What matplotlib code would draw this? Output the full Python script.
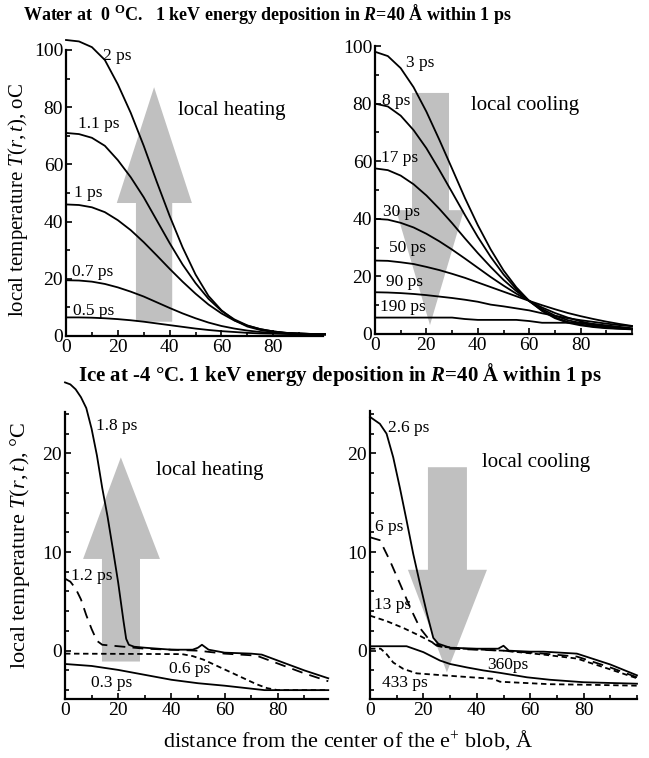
import matplotlib
matplotlib.use("Agg")
import matplotlib.pyplot as plt
from matplotlib.patches import Polygon
from matplotlib.ticker import MultipleLocator

plt.rcParams["font.family"] = "Liberation Serif"
plt.rcParams["mathtext.fontset"] = "custom"
plt.rcParams["mathtext.rm"] = "Liberation Serif"
plt.rcParams["mathtext.it"] = "Liberation Serif:italic"
plt.rcParams["mathtext.bf"] = "Liberation Serif:bold"
plt.rcParams["mathtext.bfit"] = "Liberation Serif:bold:italic"

# distance grid for water panels, Angstrom
r_water = [0, 5, 10, 15, 20, 25, 30, 35, 40, 45, 50, 55, 60, 65, 70, 75, 80, 85, 90, 95, 100]

# water, heating stage (deg C)
w_05ps = [6.5, 6.5, 6.4, 6.2, 5.9, 5.5, 5.0, 4.4, 3.8, 3.2, 2.6, 2.1, 1.7, 1.4, 1.1, 0.9, 0.8, 0.7, 0.6, 0.6, 0.5]
w_07ps = [19.5, 19.4, 19.0, 18.2, 17.0, 15.5, 13.8, 11.8, 9.8, 7.9, 6.2, 4.7, 3.5, 2.6, 1.9, 1.4, 1.1, 0.9, 0.7, 0.6, 0.6]
w_1ps = [46, 45.8, 45, 43.3, 40.5, 37, 32.8, 28.2, 23.5, 19, 14.8, 11, 7.9, 5.4, 3.6, 2.4, 1.6, 1.1, 0.9, 0.7, 0.6]
w_11ps = [71, 70.6, 69.3, 66.5, 61.5, 55.5, 48.5, 40.5, 32.5, 25, 18.5, 13, 8.8, 5.8, 3.7, 2.4, 1.6, 1.1, 0.9, 0.7, 0.6]
w_2ps = [103.5, 103, 101, 96.5, 88, 78, 66.5, 54, 42, 31, 21.5, 14, 9, 5.5, 3.3, 2.1, 1.4, 1.0, 0.8, 0.7, 0.6]

# water, cooling stage (deg C)
w_3ps = [98, 96.5, 92.3, 85.7, 77.2, 67.5, 57.4, 47.2, 37.8, 29.4, 22.1, 16.2, 11.5, 8, 5.5, 3.9, 3.0, 2.4, 2.0, 1.8, 1.6]
w_8ps = [80, 79, 75.8, 70.8, 64.5, 57, 49.2, 41.3, 33.7, 26.8, 20.7, 15.6, 11.4, 8.2, 5.8, 4.2, 3.3, 2.6, 2.2, 1.9, 1.7]
w_17ps = [57.5, 56.9, 55, 52, 48.1, 43.5, 38.5, 33.2, 28.1, 23.3, 18.8, 14.9, 11.5, 8.7, 6.4, 4.8, 3.8, 3.0, 2.5, 2.1, 1.8]
w_30ps = [40, 39.7, 38.6, 37, 34.8, 32.2, 29.3, 26.2, 23, 19.8, 16.8, 14, 11.5, 9.2, 7.3, 5.7, 4.4, 3.3, 2.6, 2.1, 1.8]
w_50ps = [25.5, 25.4, 24.9, 24.3, 23.3, 22.2, 20.9, 19.5, 17.9, 16.3, 14.7, 13.1, 11.5, 10, 8.6, 7.3, 6.2, 5.2, 4.3, 3.5, 2.8]
w_90ps = [14.5, 14.4, 14.2, 13.9, 13.5, 13, 12.5, 11.9, 11.2, 10.2, 9.6, 8.9, 8.2, 7.2, 6.3, 5.5, 4.8, 4.2, 3.6, 3.1, 2.7]
w_190ps = [5.7, 5.7, 5.7, 5.7, 5.7, 5.7, 5.7, 5.2, 4.9, 4.9, 4.9, 4.9, 4.5, 3.9, 3.9, 3.9, 3.9, 3.5, 3.0, 2.5, 2.0]

# ice, heating stage (deg C)
r_i18 = [0, 2, 4, 6, 8, 10, 12, 14, 16, 18, 20, 22, 23, 24, 26, 30, 40, 48, 50, 51.5, 54, 60, 70, 74, 80, 90, 99]
i_18ps = [27.2, 27, 26.5, 25.7, 24.6, 22.5, 19.8, 16.5, 13.6, 10.3, 6.9, 3.0, 1.2, 0.6, 0.4, 0.3, 0.1, 0.1, 0.3, 0.6, 0.1, -0.2, -0.3, -0.4, -1.0, -2.0, -2.8]
r_i12 = [0, 2, 4, 6, 8, 10, 12, 14, 18, 22, 30, 50, 60, 72, 80, 90, 99]
i_12ps = [7.3, 7.0, 6.3, 5.2, 3.6, 2.2, 1.0, 0.6, 0.5, 0.4, 0.2, 0.0, -0.3, -0.5, -1.3, -2.3, -3.1]
r_i06 = [0, 44, 48, 52, 56, 60, 64, 68, 72, 76, 80, 90, 99]
i_06ps = [-0.3, -0.35, -0.55, -0.9, -1.4, -1.9, -2.4, -2.9, -3.4, -3.8, -4.0, -4.0, -4.0]
r_i03 = [0, 10, 20, 30, 40, 50, 60, 70, 75, 99]
i_03ps = [-1.35, -1.55, -1.95, -2.45, -2.95, -3.3, -3.55, -3.85, -4.0, -4.0]

# ice, cooling stage (deg C)
r_i26 = [0, 3.7, 6.2, 8.7, 11.2, 13.7, 16.2, 18.7, 21.3, 23.7, 25.6, 30, 40, 48, 50, 52, 60, 65, 77.5, 90, 100]
i_26ps = [23.7, 23, 22, 19.6, 16.5, 13.2, 9.8, 6.8, 3.8, 1.3, 0.7, 0.3, 0.2, 0.2, 0.5, 0.0, -0.1, -0.1, -0.3, -1.4, -2.5]
r_i6 = [0, 3.7, 7.5, 11.2, 15, 18.7, 22.5, 25, 30, 50, 65, 77.5, 90, 100]
i_6ps = [11.5, 11.2, 9.1, 6.8, 4.4, 2.3, 1.0, 0.5, 0.2, 0.0, -0.3, -0.6, -1.7, -2.7]
r_i13 = [0, 6.2, 12.5, 18.7, 23.7, 27, 35, 50, 65, 77.5, 90, 100]
i_13ps = [3.55, 3.0, 2.3, 1.5, 0.8, 0.4, 0.2, 0.0, -0.4, -0.8, -1.9, -2.8]
r_i360 = [0, 13.7, 20, 26.2, 30, 36.3, 42.4, 48.7, 58.8, 67.4, 80, 100]
i_360ps = [0.45, 0.45, -0.15, -1.0, -1.35, -1.7, -2.0, -2.25, -2.7, -2.95, -3.2, -3.35]
r_i433 = [0, 4, 6.2, 8.7, 12.5, 17.5, 30, 46, 48.7, 67.4, 80, 100]
i_433ps = [0.2, 0.2, -0.35, -1.2, -1.85, -2.3, -2.55, -2.85, -3.15, -3.4, -3.45, -3.55]

GRAY = "#c0c0c0"
W, H = 649, 758

fig = plt.figure(figsize=(6.49, 7.58), dpi=100)


def px_axes(x0, x1, y_top, y_bot):
    return fig.add_axes([x0 / W, 1 - y_bot / H, (x1 - x0) / W, (y_bot - y_top) / H])


def style(ax, xmax, ylim, ymajor, yminor):
    ax.set_xlim(0, xmax)
    ax.set_ylim(*ylim)
    for s in ("top", "right"):
        ax.spines[s].set_visible(False)
    for s in ("left", "bottom"):
        ax.spines[s].set_linewidth(1.6)
    ax.set_xticks([0, 20, 40, 60, 80])
    ax.xaxis.set_minor_locator(MultipleLocator(10))
    ax.yaxis.set_major_locator(MultipleLocator(ymajor))
    ax.yaxis.set_minor_locator(MultipleLocator(yminor))
    ax.tick_params(which="both", direction="in", width=1.2, labelsize=14, pad=2)
    ax.tick_params(which="major", length=4)
    ax.tick_params(which="minor", length=3)
    ax.patch.set_alpha(0)


def gray_arrow(ax, sx0, sx1, hx0, hx1, tip_x, y_tail, y_head, y_tip):
    verts = [(sx0, y_tail), (sx1, y_tail), (sx1, y_head), (hx1, y_head),
             (tip_x, y_tip), (hx0, y_head), (sx0, y_head)]
    ax.add_patch(Polygon(verts, closed=True, facecolor=GRAY, edgecolor="none", zorder=1))


def curve(ax, x, y, ls="-"):
    ax.plot(x, y, color="black", lw=1.3, ls=ls, clip_on=False, zorder=3)


# ---- water heating
ax1 = px_axes(66, 323, 50, 336)
style(ax1, 99.2, (0, 100), 20, 10)
gray_arrow(ax1, 27, 41, 19.6, 48.6, 34, 5, 46.5, 87)
for y in (w_05ps, w_07ps, w_1ps, w_11ps, w_2ps):
    curve(ax1, r_water, y)
lab = dict(fontsize=12.5, ha="center", va="center")
ax1.text(19.6, 98, "2 ps", **lab)
ax1.text(12.7, 74, "1.1 ps", **lab)
ax1.text(8.5, 50, "1 ps", **lab)
ax1.text(10.4, 22.4, "0.7 ps", **lab)
ax1.text(10.8, 8.7, "0.5 ps", **lab)
ax1.text(64, 79, "local heating", fontsize=15, ha="center", va="center")

# ---- water cooling
ax2 = px_axes(375, 632, 46, 334)
style(ax2, 100, (0, 100), 20, 10)
gray_arrow(ax2, 14.4, 28.8, 8.2, 34.6, 21.4, 83.7, 43, 3.1)
for y in (w_3ps, w_8ps, w_17ps, w_30ps, w_50ps, w_90ps, w_190ps):
    curve(ax2, r_water, y)
ax2.text(17.5, 94, "3 ps", **lab)
ax2.text(8.2, 81, "8 ps", **lab)
ax2.text(9.7, 61, "17 ps", **lab)
ax2.text(10.5, 42.4, "30 ps", **lab)
ax2.text(12.6, 30, "50 ps", **lab)
ax2.text(11.3, 18, "90 ps", **lab)
ax2.text(11, 9.4, "190 ps", **lab)
ax2.text(58.4, 79.5, "local cooling", fontsize=15, ha="center", va="center")

# ---- ice heating
ax3 = px_axes(65, 328, 412, 699)
style(ax3, 98.9, (-4.9, 24.2), 10, 2)
gray_arrow(ax3, 13.9, 28.2, 6.8, 35.7, 21, -1.1, 9.3, 19.6)
curve(ax3, r_i18, i_18ps)
curve(ax3, r_i12, i_12ps, ls=(0, (6, 4)))
curve(ax3, r_i06, i_06ps, ls=(0, (3, 2)))
curve(ax3, r_i03, i_03ps)
ax3.text(19.5, 22.8, "1.8 ps", **lab)
ax3.text(10.2, 7.6, "1.2 ps", **lab)
ax3.text(47, -1.85, "0.6 ps", **lab)
ax3.text(17.7, -3.3, "0.3 ps", **lab)
ax3.text(54.5, 18.3, "local heating", fontsize=15, ha="center", va="center")

# ---- ice cooling
ax4 = px_axes(370, 637, 411, 699)
style(ax4, 100, (-4.9, 24.3), 10, 2)
gray_arrow(ax4, 21.7, 36.3, 14.2, 43.8, 28.8, 18.6, 8.2, -2.2)
curve(ax4, r_i26, i_26ps)
curve(ax4, r_i6, i_6ps, ls=(0, (6, 4)))
curve(ax4, r_i13, i_13ps, ls=(0, (3, 2)))
curve(ax4, r_i360, i_360ps)
curve(ax4, r_i433, i_433ps, ls=(0, (3, 2)))
ax4.text(14.6, 22.6, "2.6 ps", **lab)
ax4.text(7.1, 12.5, "6 ps", **lab)
ax4.text(8.4, 4.6, "13 ps", **lab)
ax4.text(51.8, -1.5, "360ps", **lab)
ax4.text(13.1, -3.3, "433 ps", **lab)
ax4.text(62.2, 19.1, "local cooling", fontsize=15, ha="center", va="center")

# ---- titles and axis labels
fig.text(23 / W, 1 - 14 / H,
         r"Water at  0 $^{\mathbf{O}}$C.   1 keV energy deposition in $\mathbfit{R}$=40 Å within 1 ps",
         fontsize=13, fontweight="bold", ha="left", va="center")
fig.text(78 / W, 1 - 375 / H,
         r"Ice at -4 °C. 1 keV energy deposition in $\mathbfit{R}$=40 Å within 1 ps",
         fontsize=15, fontweight="bold", ha="left", va="center")
fig.text(18 / W, 1 - 200 / H, r"local temperature $T(r,t)$, oC",
         fontsize=15, rotation=90, ha="center", va="center")
fig.text(20 / W, 1 - 545 / H, r"local temperature $T(r,t)$, °C",
         fontsize=16, rotation=90, ha="center", va="center")
fig.text(348 / W, 1 - 740 / H, r"distance from the center of the e$^{+}$ blob, Å",
         fontsize=16, ha="center", va="center")

fig.savefig("out.png", dpi=100)
